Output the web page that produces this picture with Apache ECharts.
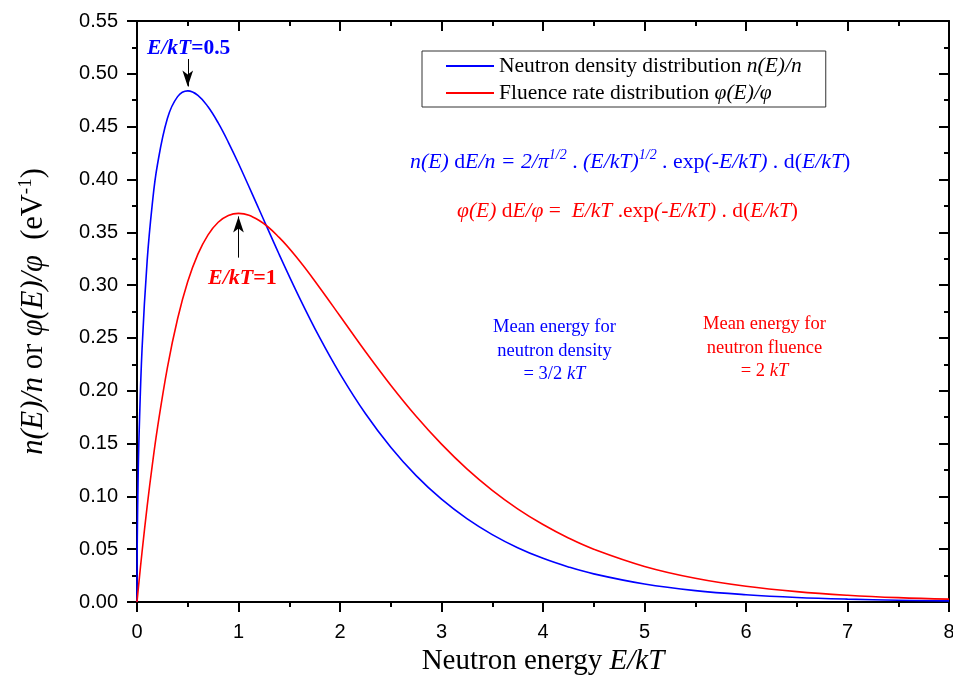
<!DOCTYPE html>
<html>
<head>
<meta charset="utf-8">
<script src="https://cdn.jsdelivr.net/npm/echarts@6/dist/echarts.min.js"></script>
<style>
  html, body { margin: 0; padding: 0; background: #fff; }
  #chart { width: 953px; height: 688px; }
</style>
</head>
<body>
<div id="chart"></div>
<script>
// reduced energy E/kT
const energy = [0, 0.001, 0.003, 0.01, 0.02, 0.05, 0.1, 0.15, 0.2, 0.3, 0.4, 0.5, 0.6, 0.7, 0.8, 0.9, 1.0,
  1.2, 1.4, 1.6, 1.8, 2.0, 2.25, 2.5, 2.75, 3.0, 3.25, 3.5, 3.75, 4.0, 4.25, 4.5, 5.0, 5.5, 6.0, 6.5, 7.0, 7.5, 8.0]
// neutron density distribution n(E)/n
const density = [0, 0.0357, 0.0616, 0.1117, 0.1564, 0.2400, 0.3229, 0.3762, 0.4132, 0.4579, 0.4784, 0.4839,
  0.4797, 0.4688, 0.4535, 0.4352, 0.4151, 0.3723, 0.3292, 0.2882, 0.2502, 0.2160, 0.1784, 0.1465, 0.1196,
  0.0973, 0.0789, 0.0638, 0.0514, 0.0413, 0.0332, 0.0266, 0.0170, 0.0108, 0.0069, 0.0043, 0.0027, 0.0017, 0.0011]
// fluence rate distribution phi(E)/phi
const fluence = [0, 0.0010, 0.0030, 0.0099, 0.0196, 0.0476, 0.0905, 0.1291, 0.1637, 0.2222, 0.2681, 0.3033,
  0.3293, 0.3476, 0.3595, 0.3659, 0.3679, 0.3614, 0.3452, 0.3230, 0.2975, 0.2707, 0.2371, 0.2052, 0.1758,
  0.1494, 0.1260, 0.1057, 0.0882, 0.0733, 0.0606, 0.0500, 0.0337, 0.0225, 0.0149, 0.0098, 0.0064, 0.0041, 0.0027]
const seriesNames = ['density', 'fluence']
const legendLabels = {
  density: '{r|Neutron density distribution }{i|n(E)/n}',
  fluence: '{r|Fluence rate distribution }{i|φ(E)/φ}',
}

const serif = 'Liberation Serif, Times New Roman, serif'
const sans = 'Liberation Sans, Arial, sans-serif'
const BLUE = '#0000ff'
const RED = '#ff0000'

const toPairs = (ys) => energy.map((x, i) => [x, ys[i]])

const axisCommon = {
  type: 'value',
  axisLine: { show: true, onZero: false, lineStyle: { color: '#000', width: 2 } },
  axisTick: { show: true, length: 10, lineStyle: { color: '#000', width: 2 } },
  minorTick: { show: true, splitNumber: 2, length: 5, lineStyle: { color: '#000', width: 2 } },
  splitLine: { show: false },
}

const chart = echarts.init(document.getElementById('chart'))

const option = {
  animation: false,
  backgroundColor: '#fff',
  grid: { left: 137, right: 4, top: 21, bottom: 86, outerBoundsMode: 'none', containLabel: false },
  legend: {
    orient: 'vertical',
    left: 422,
    top: 51,
    width: 405,
    padding: [4, 24, 3, 24],
    itemGap: 5,
    itemWidth: 48,
    itemHeight: 2,
    icon: 'rect',
    borderColor: '#333',
    borderWidth: 1,
    data: seriesNames,
    formatter: (name) => legendLabels[name],
    textStyle: {
      color: '#000',
      rich: {
        r: { fontFamily: serif, fontSize: 21.5, color: '#000' },
        i: { fontFamily: serif, fontSize: 21.5, fontStyle: 'italic', color: '#000' },
      },
    },
  },
  xAxis: [
    {
      ...axisCommon,
      position: 'bottom',
      min: 0,
      max: 8,
      interval: 1,
      axisLabel: { color: '#000', fontFamily: sans, fontSize: 20, margin: 20 },
      name: '{r|Neutron energy }{i|E/kT}',
      nameLocation: 'middle',
      nameGap: 37,
      nameTextStyle: {
        rich: {
          r: { fontFamily: serif, fontSize: 29, color: '#000' },
          i: { fontFamily: serif, fontSize: 29, fontStyle: 'italic', color: '#000' },
        },
      },
    },
    {
      ...axisCommon,
      position: 'top',
      min: 0,
      max: 8,
      interval: 1,
      axisTick: { ...axisCommon.axisTick, inside: true },
      axisLabel: { show: false },
    },
  ],
  yAxis: [
    {
      ...axisCommon,
      position: 'left',
      min: 0,
      max: 0.55,
      interval: 0.05,
      axisLabel: {
        color: '#000',
        fontFamily: sans,
        fontSize: 20,
        margin: 19,
        formatter: (v) => v.toFixed(2),
      },
      name: '{i|n(E)/n}{r| or }{i|φ(E)/φ}{r|  (eV}{s|-1}{r|)}',
      nameLocation: 'middle',
      nameRotate: 90,
      nameGap: 86,
      nameTextStyle: {
        rich: {
          r: { fontFamily: serif, fontSize: 30.5, lineHeight: 34, color: '#000' },
          i: { fontFamily: serif, fontSize: 30.5, lineHeight: 34, fontStyle: 'italic', color: '#000' },
          s: { fontFamily: serif, fontSize: 19, lineHeight: 34, verticalAlign: 'top', color: '#000' },
        },
      },
    },
    {
      ...axisCommon,
      position: 'right',
      min: 0,
      max: 0.55,
      interval: 0.05,
      axisTick: { ...axisCommon.axisTick, inside: true },
      axisLabel: { show: false },
    },
  ],
  series: [
    {
      name: 'density',
      type: 'line',
      xAxisIndex: 0,
      yAxisIndex: 0,
      data: toPairs(density),
      smooth: 0.4,
      showSymbol: false,
      color: BLUE,
      lineStyle: { color: BLUE, width: 1.6 },
      markLine: {
        silent: true,
        symbol: ['none', 'arrow'],
        symbolSize: [8, 16],
        label: { show: false },
        lineStyle: { color: '#000', width: 1, type: 'solid' },
        data: [[{ coord: [0.5, 0.514] }, { coord: [0.5, 0.488] }]],
      },
    },
    {
      name: 'fluence',
      type: 'line',
      xAxisIndex: 0,
      yAxisIndex: 0,
      data: toPairs(fluence),
      smooth: 0.4,
      showSymbol: false,
      color: RED,
      lineStyle: { color: RED, width: 1.6 },
      markLine: {
        silent: true,
        symbol: ['none', 'arrow'],
        symbolSize: [8, 16],
        label: { show: false },
        lineStyle: { color: '#000', width: 1, type: 'solid' },
        data: [[{ coord: [1, 0.326] }, { coord: [1, 0.365] }]],
      },
    },
  ],
  graphic: [
    {
      type: 'text',
      left: 147,
      top: 37,
      style: {
        text: '{bi|E/kT}{b|=0.5}',
        rich: {
          bi: { fontFamily: serif, fontSize: 21.5, fontWeight: 'bold', fontStyle: 'italic', fill: BLUE },
          b: { fontFamily: serif, fontSize: 21.5, fontWeight: 'bold', fill: BLUE },
        },
      },
    },
    {
      type: 'text',
      left: 208,
      top: 267,
      style: {
        text: '{bi|E/kT}{b|=1}',
        rich: {
          bi: { fontFamily: serif, fontSize: 22, fontWeight: 'bold', fontStyle: 'italic', fill: RED },
          b: { fontFamily: serif, fontSize: 22, fontWeight: 'bold', fill: RED },
        },
      },
    },
    {
      type: 'text',
      left: 410,
      top: 148,
      style: {
        text: '{i|n(E)}{r| d}{i|E/n = 2/π}{s|1/2}{r| . }{i|(E/kT)}{s|1/2}{r| . exp}{i|(-E/kT)}{r| . d(}{i|E/kT}{r|)}',
        rich: {
          r: { fontFamily: serif, fontSize: 21.8, lineHeight: 28, fill: BLUE },
          i: { fontFamily: serif, fontSize: 21.8, lineHeight: 28, fontStyle: 'italic', fill: BLUE },
          s: { fontFamily: serif, fontSize: 14, lineHeight: 28, fontStyle: 'italic', verticalAlign: 'top', fill: BLUE },
        },
      },
    },
    {
      type: 'text',
      left: 457,
      top: 200,
      style: {
        text: '{i|φ(E)}{r| d}{i|E/φ}{r| =  }{i|E/kT}{r| .exp}{i|(-E/kT)}{r| . d(}{i|E/kT}{r|)}',
        rich: {
          r: { fontFamily: serif, fontSize: 21.5, lineHeight: 28, fill: RED },
          i: { fontFamily: serif, fontSize: 21.5, lineHeight: 28, fontStyle: 'italic', fill: RED },
        },
      },
    },
    {
      type: 'text',
      left: 493,
      top: 318,
      style: {
        text: '{r|Mean energy for}\n{r|neutron density}\n{r|= 3/2 }{i|kT}',
        align: 'center',
        rich: {
          r: { fontFamily: serif, fontSize: 18.5, lineHeight: 23.5, fill: BLUE, align: 'center' },
          i: { fontFamily: serif, fontSize: 18.5, lineHeight: 23.5, fontStyle: 'italic', fill: BLUE },
        },
      },
    },
    {
      type: 'text',
      left: 703,
      top: 315,
      style: {
        text: '{r|Mean energy for}\n{r|neutron fluence}\n{r|= 2 }{i|kT}',
        align: 'center',
        rich: {
          r: { fontFamily: serif, fontSize: 18.5, lineHeight: 23.5, fill: RED, align: 'center' },
          i: { fontFamily: serif, fontSize: 18.5, lineHeight: 23.5, fontStyle: 'italic', fill: RED },
        },
      },
    },
  ],
}

chart.setOption(option)
</script>
</body>
</html>
